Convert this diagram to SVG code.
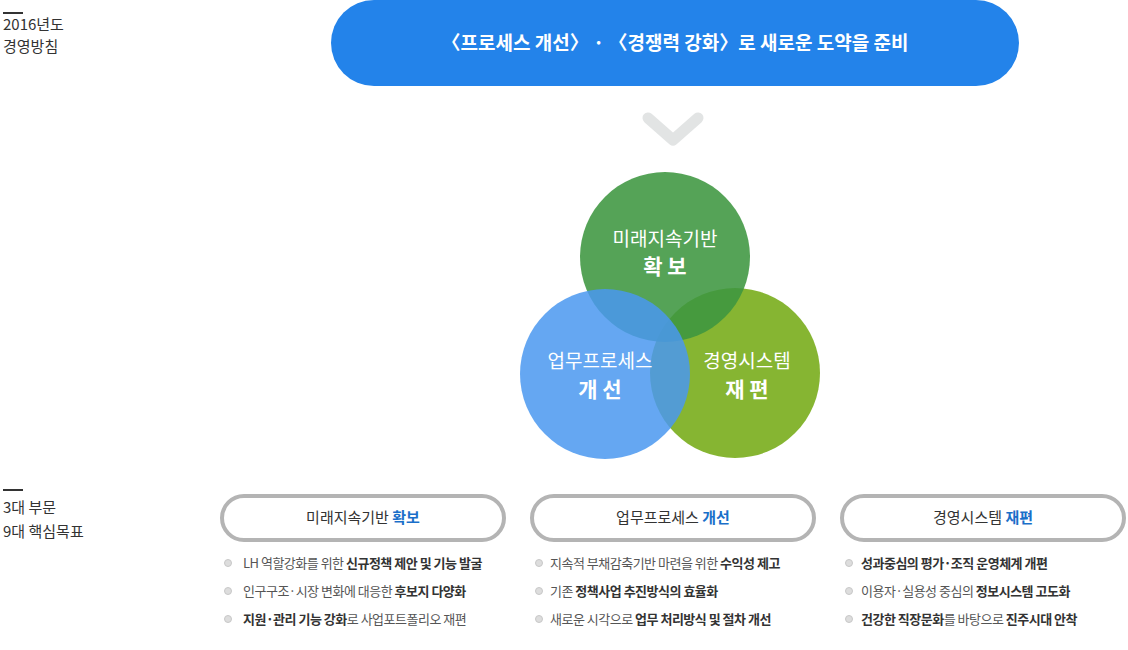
<svg xmlns="http://www.w3.org/2000/svg" width="1128" height="650" viewBox="0 0 1128 650">
<style>
text{font-family:"Noto Sans CJK KR","Noto Sans",sans-serif}
.lab{font-size:15px;fill:#333}
.pill{fill:#fff;stroke:#b4b4b4;stroke-width:4}
.pt{font-size:15px;fill:#333;text-anchor:middle}
.hl{fill:#1a6fc9;font-weight:bold}
.li{font-size:13px;fill:#555;letter-spacing:-0.5px}
.b{font-weight:bold;fill:#333}
.dot{fill:#ddd;stroke:#c8c8c8;stroke-width:1}
.ct{fill:#fff;text-anchor:middle;font-size:19px}
.cb{fill:#fff;text-anchor:middle;font-size:21px;font-weight:bold}
</style>
<rect width="1128" height="650" fill="#fff"/>
<g id="labels">
<rect x="3" y="12" width="20" height="2" fill="#333"/>
<text class="lab" x="3" y="30">2016년도</text>
<text class="lab" x="3" y="52">경영방침</text>
<rect x="3" y="489" width="20" height="2" fill="#333"/>
<text class="lab" x="3" y="513">3대 부문</text>
<text class="lab" x="3" y="537">9대 핵심목표</text>
</g>
<g id="top">
<rect x="331" y="0" width="688" height="86" rx="43" fill="#2383ea"/>
<text x="675" y="50" fill="#fff" font-size="19" font-weight="bold" text-anchor="middle">〈프로세스 개선〉 · 〈경쟁력 강화〉로 새로운 도약을 준비</text>
</g>
<g id="connectors">
<polyline points="648,118 673,140 698,118" fill="none" stroke="#e2e4e4" stroke-width="11" stroke-linecap="round" stroke-linejoin="round"/>
</g>
<g id="circles">
<circle cx="735" cy="373" r="85" fill="#7fb127" opacity="0.95"/>
<circle cx="665" cy="257" r="85" fill="#3e9640" opacity="0.88"/>
<circle cx="605" cy="374" r="85" fill="#4a98f0" opacity="0.85"/>
<text class="ct" x="665" y="246">미래지속기반</text>
<text class="cb" x="665" y="274">확 보</text>
<text class="ct" x="600" y="368">업무프로세스</text>
<text class="cb" x="600" y="397">개 선</text>
<text class="ct" x="747" y="368">경영시스템</text>
<text class="cb" x="747" y="397">재 편</text>
</g>
<g id="col1">
<rect class="pill" x="222" y="496" width="282" height="44" rx="22"/>
<text class="pt" x="363" y="523">미래지속기반 <tspan class="hl">확보</tspan></text>
<circle class="dot" cx="228" cy="563" r="3.5"/><text class="li" x="243" y="568">LH 역할강화를 위한 <tspan class="b">신규정책 제안 및 기능 발굴</tspan></text>
<circle class="dot" cx="228" cy="591" r="3.5"/><text class="li" x="243" y="596">인구구조·시장 변화에 대응한 <tspan class="b">후보지 다양화</tspan></text>
<circle class="dot" cx="228" cy="619" r="3.5"/><text class="li" x="243" y="624"><tspan class="b">지원·관리 기능 강화</tspan>로 사업포트폴리오 재편</text>
</g>
<g id="col2">
<rect class="pill" x="532" y="496" width="282" height="44" rx="22"/>
<text class="pt" x="673" y="523">업무프로세스 <tspan class="hl">개선</tspan></text>
<circle class="dot" cx="539" cy="563" r="3.5"/><text class="li" x="550" y="568">지속적 부채감축기반 마련을 위한 <tspan class="b">수익성 제고</tspan></text>
<circle class="dot" cx="539" cy="591" r="3.5"/><text class="li" x="550" y="596">기존 <tspan class="b">정책사업 추진방식의 효율화</tspan></text>
<circle class="dot" cx="539" cy="619" r="3.5"/><text class="li" x="550" y="624">새로운 시각으로 <tspan class="b">업무 처리방식 및 절차 개선</tspan></text>
</g>
<g id="col3">
<rect class="pill" x="842" y="496" width="282" height="44" rx="22"/>
<text class="pt" x="983" y="523">경영시스템 <tspan class="hl">재편</tspan></text>
<circle class="dot" cx="849" cy="563" r="3.5"/><text class="li" x="861" y="568"><tspan class="b">성과중심의 평가·조직 운영체계 개편</tspan></text>
<circle class="dot" cx="849" cy="591" r="3.5"/><text class="li" x="861" y="596">이용자·실용성 중심의 <tspan class="b">정보시스템 고도화</tspan></text>
<circle class="dot" cx="849" cy="619" r="3.5"/><text class="li" x="861" y="624"><tspan class="b">건강한 직장문화</tspan>를 바탕으로 <tspan class="b">진주시대 안착</tspan></text>
</g>
</svg>
